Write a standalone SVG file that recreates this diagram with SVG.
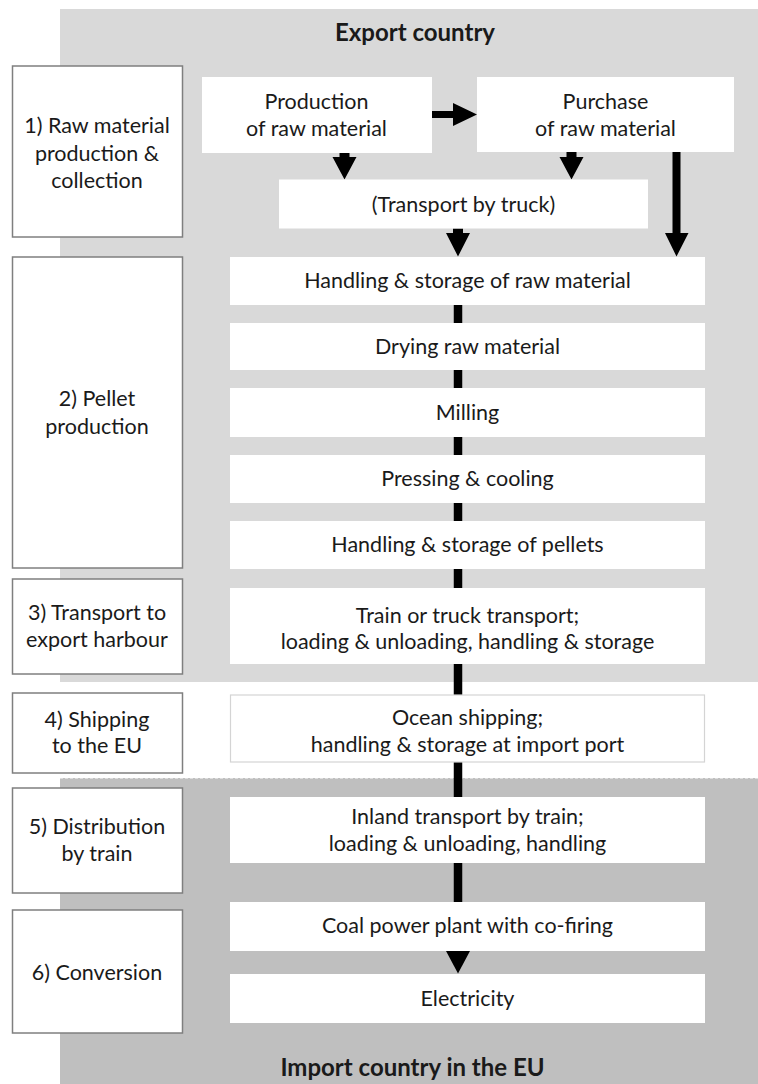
<svg xmlns="http://www.w3.org/2000/svg" width="758" height="1084" viewBox="0 0 758 1084">
<style>
text{font-family:Lato,"Open Sans","Liberation Sans",sans-serif;font-size:21.5px;fill:#1a1a1a;text-anchor:middle}
.title{font-weight:bold;font-size:24px}
.stage{fill:#ffffff;stroke:#7f7f7f;stroke-width:1.5}
.step{fill:#ffffff}
.ocean{fill:#ffffff;stroke:#d4d4d4;stroke-width:1.2}
.arr{fill:#000000}
.bar{stroke:#000000;stroke-width:8.5}
</style>
<g id="regions">
<rect id="export-region" x="60" y="9" width="698" height="673" fill="#d9d9d9"/>
<rect id="import-region" x="60" y="778" width="698" height="306" fill="#bfbfbf"/>
<line x1="60" y1="778.5" x2="758" y2="778.5" stroke="#dedede" stroke-width="1.2" stroke-dasharray="3 2"/>
<text class="title" x="415" y="41">Export country</text>
<text class="title" x="412.5" y="1076">Import country in the EU</text>
</g>
<g id="connectors">
<path class="arr" d="M430 111H453V103L477 114.5L453 126V118H430Z"/>
<path class="arr" d="M339.5 152H349.5V157H356.5L344.5 179.5L332.5 157H339.5Z"/>
<path class="arr" d="M566.5 152H576.5V157H583.5L571.5 179.5L559.5 157H566.5Z"/>
<path class="arr" d="M453 228.5H463V233H470L458 256.5L446 233H453Z"/>
<path class="arr" d="M672.5 152H680.5V233H688.5L676.5 256.5L665 233H672.5Z"/>
<line class="bar" x1="458" y1="305" x2="458" y2="323"/>
<line class="bar" x1="458" y1="370" x2="458" y2="388"/>
<line class="bar" x1="458" y1="437" x2="458" y2="455"/>
<line class="bar" x1="458" y1="503" x2="458" y2="521"/>
<line class="bar" x1="458" y1="569" x2="458" y2="588"/>
<line class="bar" x1="458" y1="664" x2="458" y2="695"/>
<line class="bar" x1="458" y1="762" x2="458" y2="797"/>
<line class="bar" x1="458" y1="863" x2="458" y2="902"/>
<path class="arr" d="M446 951L470 951L458 973.5Z"/>
</g>
<g id="stage1"><rect class="stage" x="12.5" y="66" width="170" height="171"/>
<text x="97" y="133">1) Raw material</text><text x="97" y="160.5">production &amp;</text><text x="97" y="188">collection</text></g>
<g id="stage2"><rect class="stage" x="12.5" y="257" width="170" height="311"/>
<text x="97" y="406">2) Pellet</text><text x="97" y="434">production</text></g>
<g id="stage3"><rect class="stage" x="12.5" y="579" width="170" height="95"/>
<text x="97" y="620">3) Transport to</text><text x="97" y="647">export harbour</text></g>
<g id="stage4"><rect class="stage" x="12.5" y="693" width="170" height="80"/>
<text x="97" y="727">4) Shipping</text><text x="97" y="753">to the EU</text></g>
<g id="stage5"><rect class="stage" x="12.5" y="788" width="170" height="105"/>
<text x="97" y="834">5) Distribution</text><text x="97" y="861">by train</text></g>
<g id="stage6"><rect class="stage" x="12.5" y="910" width="170" height="123"/>
<text x="97" y="980">6) Conversion</text></g>
<g id="production"><rect class="step" x="202" y="77" width="230" height="76"/>
<text x="316.5" y="109">Production</text><text x="316.5" y="136">of raw material</text></g>
<g id="purchase"><rect class="step" x="477" y="77" width="257" height="75"/>
<text x="605.5" y="109">Purchase</text><text x="605.5" y="136">of raw material</text></g>
<g id="truck"><rect class="step" x="279" y="179.5" width="369" height="49"/>
<text x="463.5" y="212">(Transport by truck)</text></g>
<g id="handling-raw"><rect class="step" x="230" y="257" width="475" height="48"/>
<text x="467.5" y="288">Handling &amp; storage of raw material</text></g>
<g id="drying"><rect class="step" x="230" y="323" width="475" height="47"/>
<text x="467.5" y="353.5">Drying raw material</text></g>
<g id="milling"><rect class="step" x="230" y="388" width="475" height="49"/>
<text x="467.5" y="419.5">Milling</text></g>
<g id="pressing"><rect class="step" x="230" y="455" width="475" height="48"/>
<text x="467.5" y="486">Pressing &amp; cooling</text></g>
<g id="handling-pellets"><rect class="step" x="230" y="521" width="475" height="48"/>
<text x="467.5" y="552">Handling &amp; storage of pellets</text></g>
<g id="train-truck"><rect class="step" x="230" y="588" width="475" height="76"/>
<text x="467.5" y="623">Train or truck transport;</text><text x="467.5" y="649">loading &amp; unloading, handling &amp; storage</text></g>
<g id="ocean"><rect class="ocean" x="230.5" y="695" width="474" height="67"/>
<text x="467.5" y="725">Ocean shipping;</text><text x="467.5" y="752">handling &amp; storage at import port</text></g>
<g id="inland"><rect class="step" x="230" y="797" width="475" height="66"/>
<text x="467.5" y="824">Inland transport by train;</text><text x="467.5" y="851">loading &amp; unloading, handling</text></g>
<g id="coal"><rect class="step" x="230" y="902" width="475" height="49"/>
<text x="467.5" y="933">Coal power plant with co-firing</text></g>
<g id="electricity"><rect class="step" x="230" y="974" width="475" height="49"/>
<text x="467.5" y="1006">Electricity</text></g>
</svg>
